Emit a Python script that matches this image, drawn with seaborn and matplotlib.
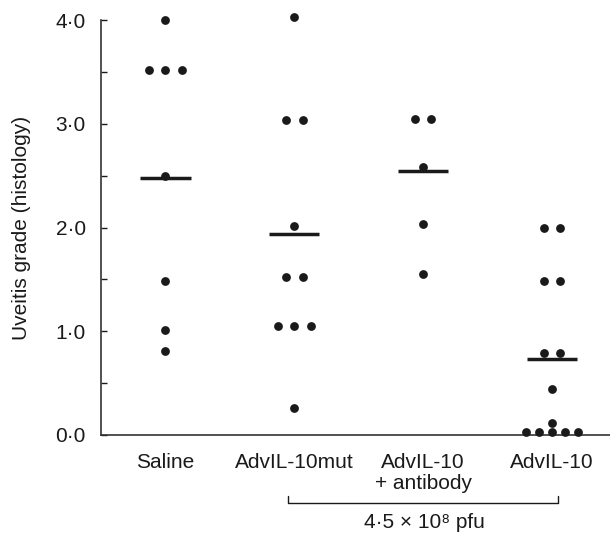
import numpy as np
import pandas as pd
import seaborn as sns
import matplotlib.pyplot as plt
from matplotlib.ticker import FuncFormatter, MultipleLocator

# uveitis grade per eye
saline = [4.0, 3.52, 3.52, 3.52, 2.5, 1.48, 1.01, 0.81]
adv_mut = [4.03, 3.04, 3.04, 2.01, 1.52, 1.52, 1.05, 1.05, 1.05, 0.26]
adv_ab = [3.05, 3.05, 2.58, 2.03, 1.55]
adv_il10 = [2.0, 2.0, 1.48, 1.48, 0.79, 0.79, 0.44, 0.12, 0.03, 0.03, 0.03, 0.03, 0.03]
group_means = [2.48, 1.94, 2.54, 0.73]

group_labels = ["Saline", "AdvIL-10mut", "AdvIL-10\n+ antibody", "AdvIL-10"]
dose_label = "4·5 × 10⁸ pfu"

sns.set_theme(style="white")
plt.rcParams["font.family"] = ["Liberation Sans", "DejaVu Sans"]

ink = "#1a1a1a"
fs = 15

rows = []
for i, vals in enumerate([saline, adv_mut, adv_ab, adv_il10]):
    for v in vals:
        rows.append({"group": i, "grade": v})
df = pd.DataFrame(rows)

# spread tied values symmetrically around the group centre
n = df.groupby(["group", "grade"])["grade"].transform("size")
k = df.groupby(["group", "grade"]).cumcount()
step = np.minimum(0.128, 0.4 / np.maximum(n - 1, 1))
df["xpos"] = df["group"] + (k - (n - 1) / 2) * step

fig = plt.figure(figsize=(6.1, 5.33), dpi=100)
ax = fig.add_axes([101 / 610, 98 / 533, 509 / 610, 415 / 533])

sns.scatterplot(data=df, x="xpos", y="grade", ax=ax, color=ink, s=40,
                linewidth=0, legend=False, clip_on=False, zorder=3)

idx = np.arange(len(group_means))
ax.hlines(group_means, idx - 0.195, idx + 0.195, color=ink, lw=2.5, zorder=2)

ax.set_xlim(-0.5, 3.45)
ax.set_ylim(0, 4.0)
ax.set_xticks(idx)
ax.set_xticklabels(group_labels, fontsize=fs, color=ink, linespacing=1.1)
ax.yaxis.set_major_locator(MultipleLocator(1.0))
ax.yaxis.set_minor_locator(MultipleLocator(0.5))
ax.yaxis.set_major_formatter(FuncFormatter(lambda v, p: f"{v:.1f}".replace(".", "·")))
ax.tick_params(axis="y", which="both", direction="in", length=4.5, width=1,
               color=ink, labelsize=fs, labelcolor=ink, pad=11, left=True)
ax.tick_params(axis="x", length=0, pad=13)
ax.set_xlabel("")
ax.set_ylabel("")

for s in ["top", "right"]:
    ax.spines[s].set_visible(False)
for s in ["left", "bottom"]:
    ax.spines[s].set_color("#333333")
    ax.spines[s].set_linewidth(1.2)

fig.text(22 / 610, 1 - 228 / 533, "Uveitis grade (histology)", rotation=90,
         ha="center", va="center", fontsize=fs, color=ink)

# bracket under the three vector-dose groups
tr = ax.get_xaxis_transform()
ax.plot([1 - 0.05, 1 - 0.05, 3 + 0.05, 3 + 0.05], [-0.147, -0.163, -0.163, -0.147],
        transform=tr, color=ink, lw=1, clip_on=False)
fig.text(424 / 610, 1 - 523 / 533, dose_label, ha="center", va="center",
         fontsize=fs, color=ink)

fig.savefig("out.png", dpi=100)
